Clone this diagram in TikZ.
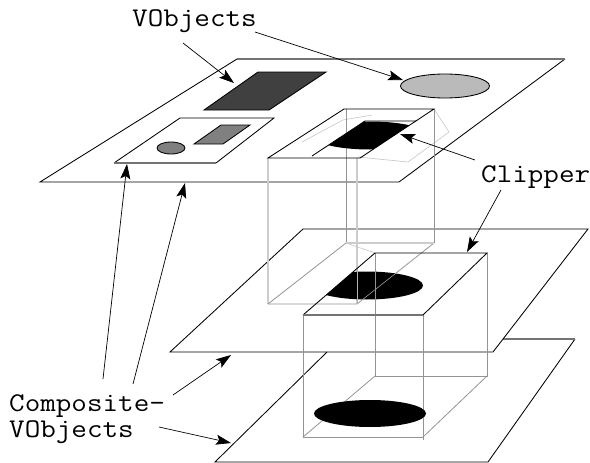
\documentclass[tikz,border=0pt]{standalone}
\usetikzlibrary{arrows.meta}
\newcommand{\wtext}[1]{\scalebox{1.12}[1]{#1}}
\tikzset{
  edge/.style={draw=black,line width=0.85pt,line join=miter},
  hairgrey/.style={draw=black!42,line width=0.8pt},
  palegrey/.style={draw=black!20,line width=1.3pt},
  faint/.style={draw=black!22,line width=0.6pt},
  softtop/.style={draw=black!55,line width=1.3pt},
  ptr/.style={draw=black,line width=0.7pt,-{Stealth[length=15pt,width=10pt,inset=3pt]}},
  lbl/.style={anchor=base west,inner sep=0pt,font=\ttfamily\fontsize{27}{27}\selectfont},
  blackfill/.style={fill=black,draw=none}
}
\begin{document}
\begin{tikzpicture}[x=1pt,y=-1pt]
\useasboundingbox (0,0) rectangle (590,463);
\fill[white] (0,0) rectangle (590,463);
% plane 3
\draw[edge] (327,352) -- (215,462) -- (488,462) -- (575,339);
\draw[softtop] (503,339) -- (575,339);
% plane 2
\draw[edge] (170,352) -- (303,229) -- (588,229) -- (493,352) -- cycle;
% plane 1
\draw[edge] (237,59) -- (40,182) -- (399,182) -- (565,59);
\draw[softtop] (237,59) -- (565,59);
% VObjects on plane 1
\draw[edge,fill=black!75] (258,72) -- (204,110) -- (269,110) -- (326,72) -- cycle;
\draw[edge,fill=black!27] (445,86) ellipse [x radius=44.5,y radius=12];
% composite on plane 1
\draw[edge] (114,163) -- (180,118) -- (274,118) -- (216,163);
\draw[softtop] (114,163) -- (216,163);
\draw[edge,fill=black!50] (221,125) -- (194,144) -- (223,144) -- (250,125) -- cycle;
\draw[edge,fill=black!50] (171,148) ellipse [x radius=14,y radius=6];
% faint hidden outline behind first clipper
\draw[faint] (302,142) -- (343,120) -- (372,115);
\draw[faint] (434,109) -- (449,132) -- (408,162) -- (358,157);
% clipper box 1, vertical and lower edges
\draw[palegrey] (268,158) -- (268,304);
\draw[palegrey] (357,158) -- (357,304);
\draw[hairgrey] (346,109) -- (346,243);
\draw[hairgrey] (434,109) -- (434,243);
\draw[hairgrey] (268,304) -- (357,304) -- (434,243);
\draw[hairgrey] (268,304) -- (346,243);
\draw[palegrey] (346,243) -- (434,243);
\draw[faint] (346,243) -- (375,253);
% clipped ellipse on plane 1
\begin{scope}
  \clip (312,156) -- (365,121) -- (416,121) -- (372,150) -- (360,158) -- cycle;
  \fill[blackfill] (370,135.5) ellipse [x radius=58,y radius=14];
\end{scope}
\draw[edge] (268,158) -- (344,109) -- (434,109) -- (360,158) -- cycle;
\draw[edge] (312,156) -- (365,121) -- (416,121);
% clipped ellipse on plane 2
\begin{scope}
  \clip (303,315) -- (375,253) -- (487,253) -- (423,315) -- cycle;
  \fill[blackfill] (367,285.5) ellipse [x radius=56,y radius=14];
  \draw[draw=black!30,line width=0.5pt] (357,250) -- (357,304);
  \draw[draw=black!30,line width=0.5pt] (357,304) -- (434,243);
\end{scope}
% clipper box 2
\draw[hairgrey] (303,315) -- (303,437) -- (423,437) -- (423,315);
\draw[hairgrey] (423,437) -- (423,440);
\draw[hairgrey] (375,253) -- (375,376) -- (487,376) -- (487,253);
\draw[hairgrey] (303,437) -- (375,376);
\draw[hairgrey] (423,437) -- (487,376);
\fill[blackfill] (370,413.5) ellipse [x radius=56,y radius=13.5];
\draw[edge] (303,315) -- (375,253) -- (487,253) -- (423,315);
\draw[softtop] (303,315) -- (423,315);
% labels
\node[lbl] (vobj) at (132,27) {\wtext{VObjects}};
\node[lbl] (clip) at (481,182) {\wtext{Clipper}};
\node[lbl] (comp) at (9,411) {\wtext{Composite-}};
\node[lbl] (vobjb) at (9,437) {\wtext{VObjects}};
% connector ends
\coordinate (va) at (183,43);   \coordinate (vb) at (234,83);
\coordinate (vc) at (255,32);   \coordinate (vd) at (403,80);
\coordinate (ca) at (475,160);  \coordinate (cb) at (400,134);
\coordinate (cc) at (501,190);  \coordinate (cd) at (467,252);
\coordinate (oa) at (103,379);  \coordinate (ob) at (127,164);
\coordinate (oc) at (133,384);  \coordinate (od) at (185,183);
\coordinate (oe) at (173,395);  \coordinate (of) at (231,355);
\coordinate (og) at (159,427);  \coordinate (oh) at (231,443);
\draw[ptr] (va) -- (vb);
\draw[ptr] (vc) -- (vd);
\draw[ptr] (ca) -- (cb);
\draw[ptr] (cc) -- (cd);
\draw[ptr] (oa) -- (ob);
\draw[ptr] (oc) -- (od);
\draw[ptr] (oe) -- (of);
\draw[ptr] (og) -- (oh);
\end{tikzpicture}
\end{document}
